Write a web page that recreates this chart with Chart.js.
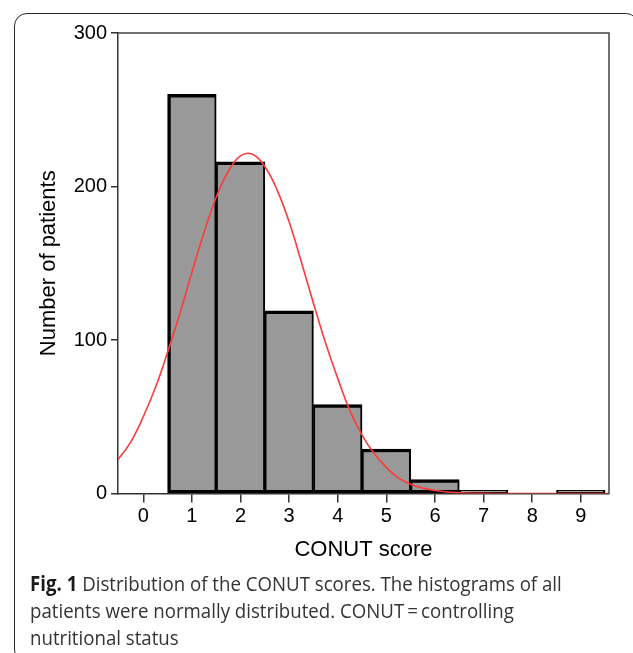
<!DOCTYPE html>
<html>
<head>
<meta charset="utf-8">
<script src="https://cdn.jsdelivr.net/npm/chart.js@4/dist/chart.umd.min.js"></script>
<style>
  html, body { margin: 0; padding: 0; background: #fff; width: 633px; height: 653px; overflow: hidden; position: relative; }
  #frame { position: absolute; left: 14px; top: 13px; width: 625px; height: 650px; border: 1.5px solid #2b2b2b; border-radius: 13px; box-sizing: border-box; }
  #chart { position: absolute; left: 0; top: 0; }
  #caption { position: absolute; left: 30px; top: 570px; font-family: "Open Sans"; font-size: 20.5px; line-height: 27px; color: #333; white-space: nowrap; transform: scaleX(0.91); transform-origin: 0 0; }
  #caption b { color: #1a1a1a; }
</style>
</head>
<body>
<div id="frame"></div>
<canvas id="chart" width="633" height="580"></canvas>
<div id="caption"><b>Fig. 1</b> Distribution of the CONUT scores. The histograms of all<br>patients were normally distributed. CONUT&thinsp;=&thinsp;controlling<br>nutritional status</div>
<script>
// histogram bins
const scores = [1, 2, 3, 4, 5, 6, 7, 8, 9];
const patients = [260, 216, 119, 58, 29, 9, 2, 0, 2];

// red normal curve
const curveX = [-0.75, -0.5, -0.25, 0, 0.25, 0.5, 0.75, 1, 1.25, 1.5, 1.75, 2, 2.25, 2.5, 2.75, 3, 3.25, 3.5, 3.75, 4, 4.25, 4.5, 4.75, 5, 5.25, 5.5, 5.75, 6, 6.25, 6.5, 6.75, 7, 7.5, 8, 8.5, 9, 9.5, 10];
const curveY = [15, 23, 34, 50, 69, 92, 117, 144, 170, 193, 210, 220, 221, 213, 198, 177, 151, 124, 98, 75, 54, 38, 26, 17, 10, 6, 3.5, 2, 1, 0.5, 0.2, 0.1, 0, 0, 0, 0, 0, 0];

const xTicks = [0, 1, 2, 3, 4, 5, 6, 7, 8, 9];
const yTicks = [0, 100, 200, 300];

// top and right lines of the plot box
const boxPlugin = {
  id: 'box',
  afterDraw(chart) {
    const a = chart.chartArea;
    const c = chart.ctx;
    c.save();
    c.strokeStyle = '#444';
    c.lineWidth = 1.5;
    c.beginPath();
    c.moveTo(a.left, a.top);
    c.lineTo(a.right, a.top);
    c.lineTo(a.right, a.bottom);
    c.stroke();
    c.restore();
  }
};

const ctx = document.getElementById('chart').getContext('2d');
new Chart(ctx, {
  type: 'bar',
  data: {
    datasets: [
      {
        type: 'line',
        data: curveX.map((x, i) => ({ x: x, y: curveY[i] })),
        borderColor: '#ff3a3a',
        borderWidth: 1.6,
        pointRadius: 0,
        tension: 0.4,
        fill: false,
        order: 0
      },
      {
        type: 'bar',
        data: scores.map((x, i) => ({ x: x, y: patients[i] })),
        backgroundColor: '#999999',
        borderColor: '#000',
        borderSkipped: false,
        borderWidth: function(c) {
          return { top: 3.5, bottom: 3, left: c.dataIndex === 0 ? 3.5 : 2, right: 2 };
        },
        barPercentage: 1,
        categoryPercentage: 1,
        order: 1
      }
    ]
  },
  options: {
    responsive: false,
    animation: false,
    devicePixelRatio: 1,
    layout: { padding: { top: 33, left: 0, right: 24, bottom: 10 } },
    plugins: { legend: { display: false }, tooltip: { enabled: false } },
    scales: {
      x: {
        type: 'linear',
        min: -0.52,
        max: 9.58,
        offset: false,
        afterBuildTicks: s => { s.ticks = xTicks.map(v => ({ value: v })); },
        afterFit: s => { s.height = 76.5; },
        grid: { offset: false, drawOnChartArea: false, drawTicks: true, tickLength: 9, color: '#333', lineWidth: 1.5 },
        border: { color: '#333', width: 1.5 },
        ticks: { color: '#000', padding: 2, font: { family: 'Liberation Sans', size: 20 } },
        title: { display: true, text: 'CONUT score', color: '#000', font: { family: 'Liberation Sans', size: 22 }, padding: { top: 0, bottom: 6.8 } }
      },
      y: {
        min: 0,
        max: 300,
        afterBuildTicks: s => { s.ticks = yTicks.map(v => ({ value: v })); },
        afterFit: s => { s.width = 118; },
        grid: { drawOnChartArea: false, drawTicks: true, tickLength: 7, color: '#333', lineWidth: 1.5 },
        border: { color: '#333', width: 1.5 },
        ticks: { color: '#000', padding: 4, font: { family: 'Liberation Sans', size: 20 } },
        title: { display: true, text: 'Number of patients', color: '#000', font: { family: 'Liberation Sans', size: 22 }, padding: { top: 35.8, bottom: 0 } }
      }
    }
  },
  plugins: [boxPlugin]
});
</script>
</body>
</html>
